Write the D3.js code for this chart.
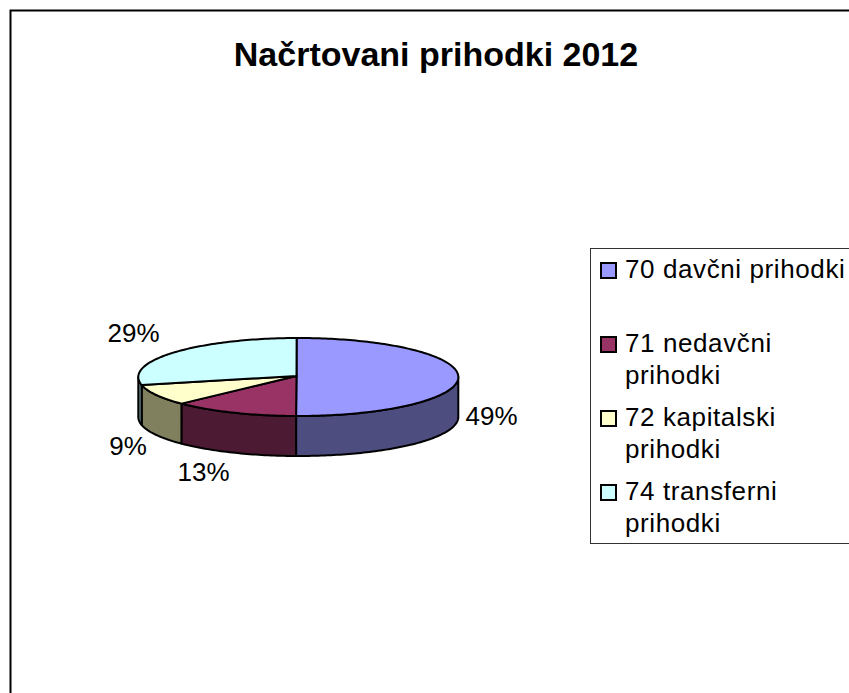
<!doctype html>
<html lang="sl">
    <head>
        <meta charset="utf-8">
        <title>Načrtovani prihodki 2012</title>
        <script type="text/javascript" src="https://d3js.org/d3.v7.min.js"></script>
        <style>
            html, body { margin: 0; padding: 0; background: #fff; overflow: hidden; }
            svg { display: block; }
            text { font-family: "Liberation Sans", Arial, sans-serif; fill: #000; }
        </style>
    </head>
    <body>
        <script type="text/javascript">
            var categories = ["70 davčni prihodki", "71 nedavčni prihodki", "72 kapitalski prihodki", "74 transferni prihodki"];
            var shares = [49, 13, 9, 29];
            var fills = ["#9999ff", "#993366", "#ffffcc", "#ccffff"];
            var walls = ["#4d4d80", "#4d1a33", "#80805f", "#608080"];

            var svgW = 849, svgH = 693;
            var depth = 40;

            var svg = d3.select("body").append("svg")
                        .attr("width", svgW)
                        .attr("height", svgH);

            // Chart frame, runs off the right and bottom of the window
            svg.append("path")
               .attr("d", "M10.5," + (svgH + 5) + "V10.5H" + (svgW + 5))
               .attr("fill", "none")
               .attr("stroke", "#000")
               .attr("stroke-width", 2);

            svg.append("text")
               .attr("x", 436)
               .attr("y", 66)
               .attr("text-anchor", "middle")
               .attr("font-size", 34)
               .attr("font-weight", "bold")
               .text("Načrtovani prihodki 2012");

            // Tilted pie: rim ellipse, hub sits slightly off its centre
            var rimX = d3.scaleLinear().domain([-1, 1]).range([138.3, 458.3]);
            var rimY = d3.scaleLinear().domain([-1, 1]).range([338, 416]);
            var hub = [296.5, 376];

            // Excel's 3D view shifts the angles a bit towards the back
            var view = function(a) {
                var s = Math.sin(a / 2);
                return a + (-0.6 + 5 * s * s) * Math.PI / 180;
            };

            var rim = function(a) {
                return [rimX(Math.sin(a)), rimY(-Math.cos(a))];
            };

            var slices = d3.pie().sort(null)(shares).map(function(d) {
                return {start: view(d.startAngle), end: view(d.endAngle), index: d.index};
            });

            var anglesBetween = function(a0, a1) {
                var n = Math.max(2, Math.ceil((a1 - a0) / 0.02));
                return d3.range(n + 1).map(i => a0 + (a1 - a0) * i / n);
            };

            var line = d3.line();

            // Front walls, only the part of each slice facing the viewer
            var lo = Math.PI / 2, hi = Math.PI * 1.5;
            slices.forEach(function(s) {
                var a0 = Math.max(s.start, lo), a1 = Math.min(s.end, hi);
                if (a1 <= a0) return;
                var top = anglesBetween(a0, a1).map(rim);
                var bottom = top.map(p => [p[0], p[1] + depth]).reverse();
                svg.append("path")
                   .attr("d", line(top.concat(bottom)) + "Z")
                   .attr("fill", walls[s.index])
                   .attr("stroke", "#000")
                   .attr("stroke-width", 2)
                   .attr("stroke-linejoin", "round");
            });

            // Top faces
            slices.forEach(function(s) {
                var pts = [hub].concat(anglesBetween(s.start, s.end).map(rim));
                svg.append("path")
                   .attr("d", line(pts) + "Z")
                   .attr("fill", fills[s.index])
                   .attr("stroke", "#000")
                   .attr("stroke-width", 2)
                   .attr("stroke-linejoin", "round");
            });

            // Percent labels
            var labelPos = [[491.5, 425], [203.5, 481], [128, 455], [133.5, 342]];
            svg.selectAll("text.pct")
               .data(shares)
               .enter()
               .append("text")
               .attr("class", "pct")
               .attr("x", (d, i) => labelPos[i][0])
               .attr("y", (d, i) => labelPos[i][1])
               .attr("text-anchor", "middle")
               .attr("font-size", 26)
               .text(d => d + "%");

            // Legend
            svg.append("rect")
               .attr("x", 590.5)
               .attr("y", 248.5)
               .attr("width", svgW)
               .attr("height", 295)
               .attr("fill", "#fff")
               .attr("stroke", "#333")
               .attr("stroke-width", 1);

            var legendBase = [278, 352, 426, 500];
            var legendWrap = [false, true, true, true];

            categories.forEach(function(name, i) {
                svg.append("rect")
                   .attr("x", 601)
                   .attr("y", legendBase[i] - 15)
                   .attr("width", 15)
                   .attr("height", 15)
                   .attr("fill", fills[i])
                   .attr("stroke", "#000")
                   .attr("stroke-width", 2);

                var words = name.split(" ");
                var first = legendWrap[i] ? words.slice(0, 2).join(" ") : name;
                svg.append("text")
                   .attr("x", 625)
                   .attr("y", legendBase[i])
                   .attr("font-size", 26)
                   .attr("letter-spacing", 0.6)
                   .text(first);
                if (legendWrap[i]) {
                    svg.append("text")
                       .attr("x", 625)
                       .attr("y", legendBase[i] + 31.5)
                       .attr("font-size", 26)
                       .attr("letter-spacing", 0.6)
                       .text(words[2]);
                }
            });
        </script>
    </body>
</html>
